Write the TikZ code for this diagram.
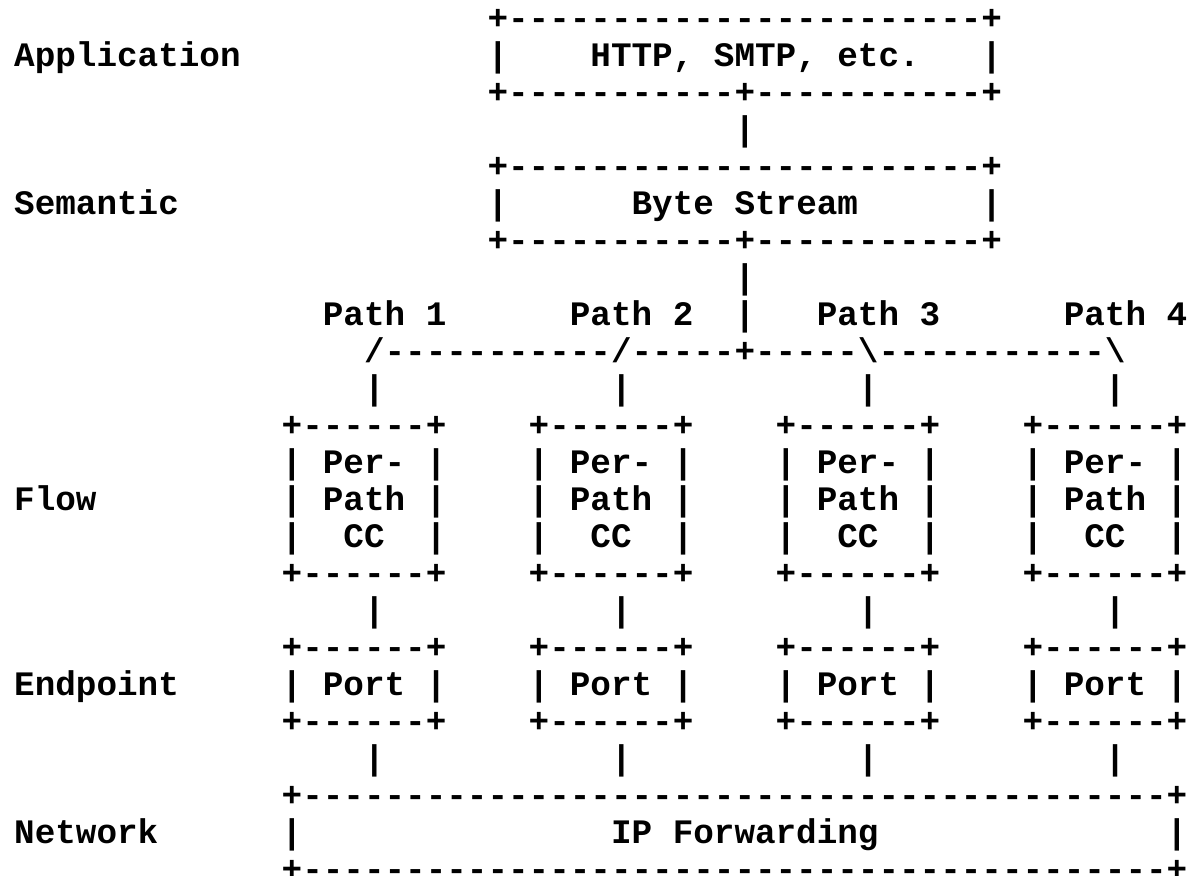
\documentclass[tikz,border=0pt]{standalone}
\usepackage{fontspec}
\setmonofont{Liberation Mono}
\ExplSyntaxOn
\NewDocumentCommand\dashrun{m}{\prg_replicate:nn{#1}{-}}
\ExplSyntaxOff
\tikzset{
  glyph/.style={anchor=base west, inner sep=0pt, outer sep=0pt, text=black,
    font=\ttfamily\bfseries\frenchspacing\fontsize{17.15pt}{18.48pt}\selectfont},
}
% place a run of characters at (column, row) of the character grid
\newcommand\gput[4]{\node[glyph] (#1) at ({(7.1+10.29*(#2))*1pt},{-(15+18.48*(#3))*1pt}) {#4};}
\begin{document}
\begin{tikzpicture}
\useasboundingbox (0,0) rectangle (599pt,-438pt);
\fill[white] (0,0) rectangle (599pt,-438pt);

% layer names
\gput{lapp}{0}{1}{Application}
\gput{lsem}{0}{5}{Semantic}
\gput{lflow}{0}{13}{Flow}
\gput{lend}{0}{18}{Endpoint}
\gput{lnet}{0}{22}{Network}

% application box
\gput{appT}{23}{0}{+\dashrun{23}+}
\gput{appL}{23}{1}{|}
\gput{app}{28}{1}{HTTP, SMTP, etc.}
\gput{appR}{47}{1}{|}
\gput{appB}{23}{2}{+\dashrun{11}+\dashrun{11}+}
\gput{appsem}{35}{3}{|}

% semantic box
\gput{semT}{23}{4}{+\dashrun{23}+}
\gput{semL}{23}{5}{|}
\gput{sem}{30}{5}{Byte Stream}
\gput{semR}{47}{5}{|}
\gput{semB}{23}{6}{+\dashrun{11}+\dashrun{11}+}
\gput{semfanA}{35}{7}{|}
\gput{semfanB}{35}{8}{|}

% path labels and fan-out
\gput{path1}{15}{8}{Path 1}
\gput{path2}{27}{8}{Path 2}
\gput{path3}{39}{8}{Path 3}
\gput{path4}{51}{8}{Path 4}
\gput{fan}{17}{9}{/\dashrun{11}/\dashrun{5}+\dashrun{5}\textbackslash\dashrun{11}\textbackslash}

% per-path congestion control and ports
\foreach \i/\c in {1/13,2/25,3/37,4/49}{
  \pgfmathtruncatemacro\m{\c+4}
  \gput{drop\i}{\m}{10}{|}
  \gput{ccT\i}{\c}{11}{+\dashrun{6}+}
  \gput{ccA\i}{\c}{12}{|~Per-~|}
  \gput{ccB\i}{\c}{13}{|~Path~|}
  \gput{ccC\i}{\c}{14}{|~~CC~~|}
  \gput{ccD\i}{\c}{15}{+\dashrun{6}+}
  \gput{ccport\i}{\m}{16}{|}
  \gput{portT\i}{\c}{17}{+\dashrun{6}+}
  \gput{port\i}{\c}{18}{|~Port~|}
  \gput{portB\i}{\c}{19}{+\dashrun{6}+}
  \gput{portnet\i}{\m}{20}{|}
}

% network box
\gput{netT}{13}{21}{+\dashrun{42}+}
\gput{netL}{13}{22}{|}
\gput{net}{29}{22}{IP Forwarding}
\gput{netR}{56}{22}{|}
\gput{netB}{13}{23}{+\dashrun{42}+}
\end{tikzpicture}
\end{document}
